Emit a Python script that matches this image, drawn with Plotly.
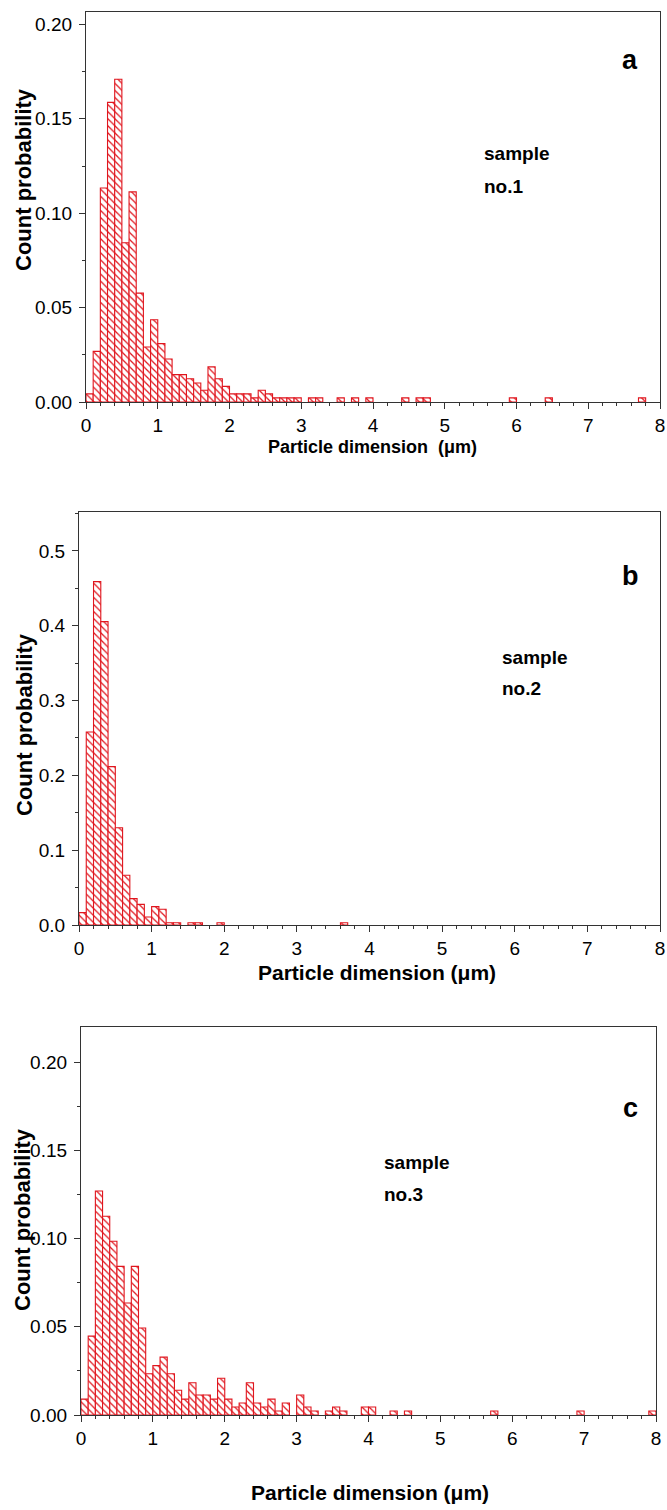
import plotly.graph_objects as go

W, H = 667, 1510
FONT = "Liberation Sans"
RED = "#e0161e"
AXC = "#333333"

bin_width = 0.1  # µm, bins from 0 to 8

# Panel a – sample no.1 (count probability per 0.1 µm bin, 80 bins)
prob_a = [0.0043, 0.0268, 0.1134, 0.1587, 0.1710, 0.0844, 0.1113, 0.0577, 0.0291, 0.0436,
          0.0309, 0.0228, 0.0145, 0.0145, 0.0123, 0.0101, 0.0062, 0.0186, 0.0123, 0.0083,
          0.0043, 0.0043, 0.0043, 0.0022, 0.0062, 0.0043, 0.0022, 0.0022, 0.0022, 0.0022,
          0.0, 0.0022, 0.0022, 0.0, 0.0, 0.0022, 0.0, 0.0022, 0.0, 0.0022,
          0.0, 0.0, 0.0, 0.0, 0.0022, 0.0, 0.0022, 0.0022, 0.0, 0.0,
          0.0, 0.0, 0.0, 0.0, 0.0, 0.0, 0.0, 0.0, 0.0, 0.0022,
          0.0, 0.0, 0.0, 0.0, 0.0022, 0.0, 0.0, 0.0, 0.0, 0.0,
          0.0, 0.0, 0.0, 0.0, 0.0, 0.0, 0.0, 0.0022, 0.0, 0.0]

# Panel b – sample no.2
prob_b = [0.0165, 0.2580, 0.4590, 0.4055, 0.2117, 0.1300, 0.0664, 0.0352, 0.0276, 0.0107,
          0.0245, 0.0210, 0.0030, 0.0030, 0.0, 0.0030, 0.0030, 0.0, 0.0, 0.0030,
          0.0, 0.0, 0.0, 0.0, 0.0, 0.0, 0.0, 0.0, 0.0, 0.0,
          0.0, 0.0, 0.0, 0.0, 0.0, 0.0, 0.0030, 0.0, 0.0, 0.0,
          0.0, 0.0, 0.0, 0.0, 0.0, 0.0, 0.0, 0.0, 0.0, 0.0,
          0.0, 0.0, 0.0, 0.0, 0.0, 0.0, 0.0, 0.0, 0.0, 0.0,
          0.0, 0.0, 0.0, 0.0, 0.0, 0.0, 0.0, 0.0, 0.0, 0.0,
          0.0, 0.0, 0.0, 0.0, 0.0, 0.0, 0.0, 0.0, 0.0, 0.0]

# Panel c – sample no.3
prob_c = [0.0090, 0.0447, 0.1270, 0.1127, 0.0985, 0.0843, 0.0635, 0.0843, 0.0493, 0.0234,
          0.0280, 0.0328, 0.0234, 0.0140, 0.0090, 0.0183, 0.0113, 0.0113, 0.0090, 0.0208,
          0.0090, 0.0045, 0.0068, 0.0183, 0.0068, 0.0045, 0.0090, 0.0023, 0.0068, 0.0,
          0.0113, 0.0045, 0.0023, 0.0, 0.0023, 0.0045, 0.0023, 0.0, 0.0, 0.0045,
          0.0045, 0.0, 0.0, 0.0023, 0.0, 0.0023, 0.0, 0.0, 0.0, 0.0,
          0.0, 0.0, 0.0, 0.0, 0.0, 0.0, 0.0, 0.0023, 0.0, 0.0,
          0.0, 0.0, 0.0, 0.0, 0.0, 0.0, 0.0, 0.0, 0.0, 0.0023,
          0.0, 0.0, 0.0, 0.0, 0.0, 0.0, 0.0, 0.0, 0.0, 0.0023]

panel_letters = ["a", "b", "c"]
sample_labels = [["sample", "no.1"], ["sample", "no.2"], ["sample", "no.3"]]
x_titles = ["Particle dimension  (μm)", "Particle dimension (μm)", "Particle dimension (μm)"]
y_title = "Count probability"


def px(p):
    return p / W


def py(p):
    return 1 - p / H


# layout geometry in pixels: (left, right, top, bottom)
boxes = [(86, 660, 12, 402), (79, 660, 512, 925), (81, 656, 1027, 1415)]
yranges = [[0, 0.2066], [0, 0.552], [0, 0.22]]
ydticks = [0.05, 0.1, 0.05]
yminor = [0.025, 0.05, 0.025]
yformats = [".2f", ".1f", ".2f"]
xtitle_pos = [(372, 447, 18), (377, 972, 21), (370, 1492, 21)]
ytitle_pos = [(24, 180), (24, 725), (22, 1220)]
letter_pos = [(630, 60), (630, 576), (630, 1108)]
sample_pos = [(5.52, 0.1315, 0.114), (5.80, 0.357, 0.316), (4.19, 0.143, 0.125)]

fig = go.Figure()
annotations = []
for k, prob in enumerate([prob_a, prob_b, prob_c]):
    xs = [i * bin_width + bin_width / 2 for i, v in enumerate(prob) if v > 0]
    ys = [v for v in prob if v > 0]
    sfx = "" if k == 0 else str(k + 1)
    fig.add_trace(go.Bar(
        x=xs, y=ys, width=bin_width, xaxis="x" + sfx, yaxis="y" + sfx,
        showlegend=False,
        marker=dict(color="white", line=dict(color=RED, width=1.1),
                    pattern=dict(shape="\\", fgcolor=RED, bgcolor="white",
                                 size=5, solidity=0.25)),
    ))
    l, r, t, b = boxes[k]
    common = dict(showline=True, mirror=True, linecolor=AXC, linewidth=1.2,
                  ticks="outside", tickcolor=AXC, tickwidth=1, ticklen=6,
                  showgrid=False, zeroline=False, ticklabeloverflow="allow",
                  automargin=False,
                  tickfont=dict(family=FONT, size=19, color="black"))
    fig.update_layout(**{
        "xaxis" + sfx: dict(domain=[px(l), px(r)], anchor="y" + sfx, range=[0, 8],
                            dtick=1, tick0=0,
                            minor=dict(dtick=0.2, ticks="outside", ticklen=3,
                                       tickcolor=AXC), **common),
        "yaxis" + sfx: dict(domain=[py(b), py(t)], anchor="x" + sfx, range=yranges[k],
                            dtick=ydticks[k], tick0=0, tickformat=yformats[k],
                            ticklabelstandoff=3,
                            minor=dict(dtick=yminor[k], ticks="outside", ticklen=3,
                                       tickcolor=AXC), **common),
    })
    # panel letter
    lx, ly = letter_pos[k]
    annotations.append(dict(text=panel_letters[k], xref="paper", yref="paper",
                            x=px(lx), y=py(ly), xanchor="center", yanchor="middle",
                            showarrow=False,
                            font=dict(family=FONT, size=27, color="black", weight="bold")))
    # sample label
    sx, sy1, sy2 = sample_pos[k]
    for line, yy in zip(sample_labels[k], [sy1, sy2]):
        annotations.append(dict(text=line, xref="x" + sfx, yref="y" + sfx,
                                x=sx, y=yy, xanchor="left", yanchor="middle",
                                showarrow=False,
                                font=dict(family=FONT, size=19, color="black",
                                          weight="bold")))
    # x title
    tx, ty, ts = xtitle_pos[k]
    annotations.append(dict(text=x_titles[k], xref="paper", yref="paper",
                            x=px(tx), y=py(ty), xanchor="center", yanchor="middle",
                            showarrow=False,
                            font=dict(family=FONT, size=ts, color="black", weight="bold")))
    # y title
    yx, yy = ytitle_pos[k]
    annotations.append(dict(text=y_title, xref="paper", yref="paper",
                            x=px(yx), y=py(yy), xanchor="center",
                            yanchor="middle", textangle=-90, showarrow=False,
                            font=dict(family=FONT, size=22, color="black",
                                      weight="bold")))

fig.update_layout(template="none", width=W, height=H,
                  margin=dict(l=0, r=0, t=0, b=0, autoexpand=False),
                  plot_bgcolor="white", paper_bgcolor="white",
                  barmode="overlay", annotations=annotations)

fig.write_html("out.html", config={"displayModeBar": False},
               post_script="document.body.style.margin='0';"
                           "document.body.style.overflow='hidden';")
